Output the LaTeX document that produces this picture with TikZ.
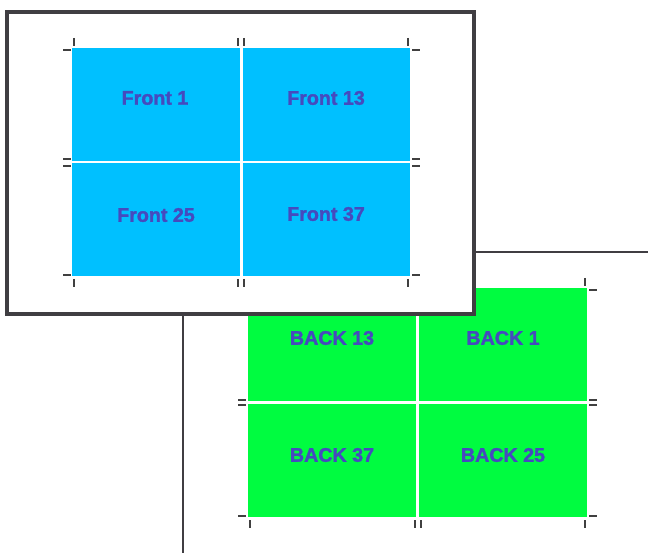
\documentclass[tikz,border=0pt]{standalone}
\usepackage{fontspec}
\setmainfont{Liberation Sans}
\newfontfamily\cardfont[FakeBold=1.6]{Liberation Sans}
\usepackage{xcolor}
\usepackage{tikz}
\definecolor{frontblue}{RGB}{0,192,255}
\definecolor{backgreen}{RGB}{0,252,64}
\definecolor{labelcolor}{RGB}{70,74,190}
\definecolor{framegray}{RGB}{64,62,66}

\begin{document}
\begin{tikzpicture}[x=0.02cm,y=-0.02cm,
    cardlabel/.style={text=labelcolor,font=\cardfont\bfseries\fontsize{11.2}{13}\selectfont},
    crop/.style={black!75,line width=0.6pt}]
\useasboundingbox (0,0) rectangle (648,553);

%% back sheet
   \draw [framegray,line width=1.2pt] (474,252) -- (648,252);
   \draw [framegray,line width=1.7pt] (183,553) -- (183,252);
      \fill [backgreen] (248,288) rectangle (416,401);
      \fill [backgreen] (419,288) rectangle (587,401);
      \fill [backgreen] (248,404) rectangle (416,517);
      \fill [backgreen] (419,404) rectangle (587,517);
\node[cardlabel] (b13) at (332,338) {BACK 13};
\node[cardlabel] (b1)  at (503,338) {BACK 1};
\node[cardlabel] (b37) at (332,455) {BACK 37};
\node[cardlabel] (b25) at (503,455) {BACK 25};
\foreach \x in {250, 415, 421, 585}
    \draw[crop] (\x,520) -- (\x,528);
\draw[crop] (585,278) -- (585,286);
\foreach \y in {290, 400, 405, 516}
    \draw[crop] (589,\y) -- (597,\y);
\foreach \y in {400, 405, 516}
    \draw[crop] (238,\y) -- (246,\y);

%% front sheet
   \filldraw [fill=white,draw=framegray,line width=2.8pt] (7,12) rectangle (474,314);
      \fill [frontblue] (72,48) rectangle (240,161);
      \fill [frontblue] (243,48) rectangle (410,161);
      \fill [frontblue] (72,163) rectangle (240,276);
      \fill [frontblue] (243,163) rectangle (410,276);
\node[cardlabel] (f1)  at (155,98)  {Front 1};
\node[cardlabel] (f13) at (326,98)  {Front 13};
\node[cardlabel] (f25) at (156,215) {Front 25};
\node[cardlabel] (f37) at (326,214) {Front 37};
\foreach \x in {74, 238, 244, 408}
    \draw[crop] (\x,38) -- (\x,46);
\foreach \x in {74, 238, 244, 408}
    \draw[crop] (\x,279) -- (\x,287);
\foreach \y in {50, 159, 166, 275}
    \draw[crop] (63,\y) -- (71,\y);
\foreach \y in {50, 159, 166, 275}
    \draw[crop] (412,\y) -- (420,\y);
\end{tikzpicture}
\end{document}
